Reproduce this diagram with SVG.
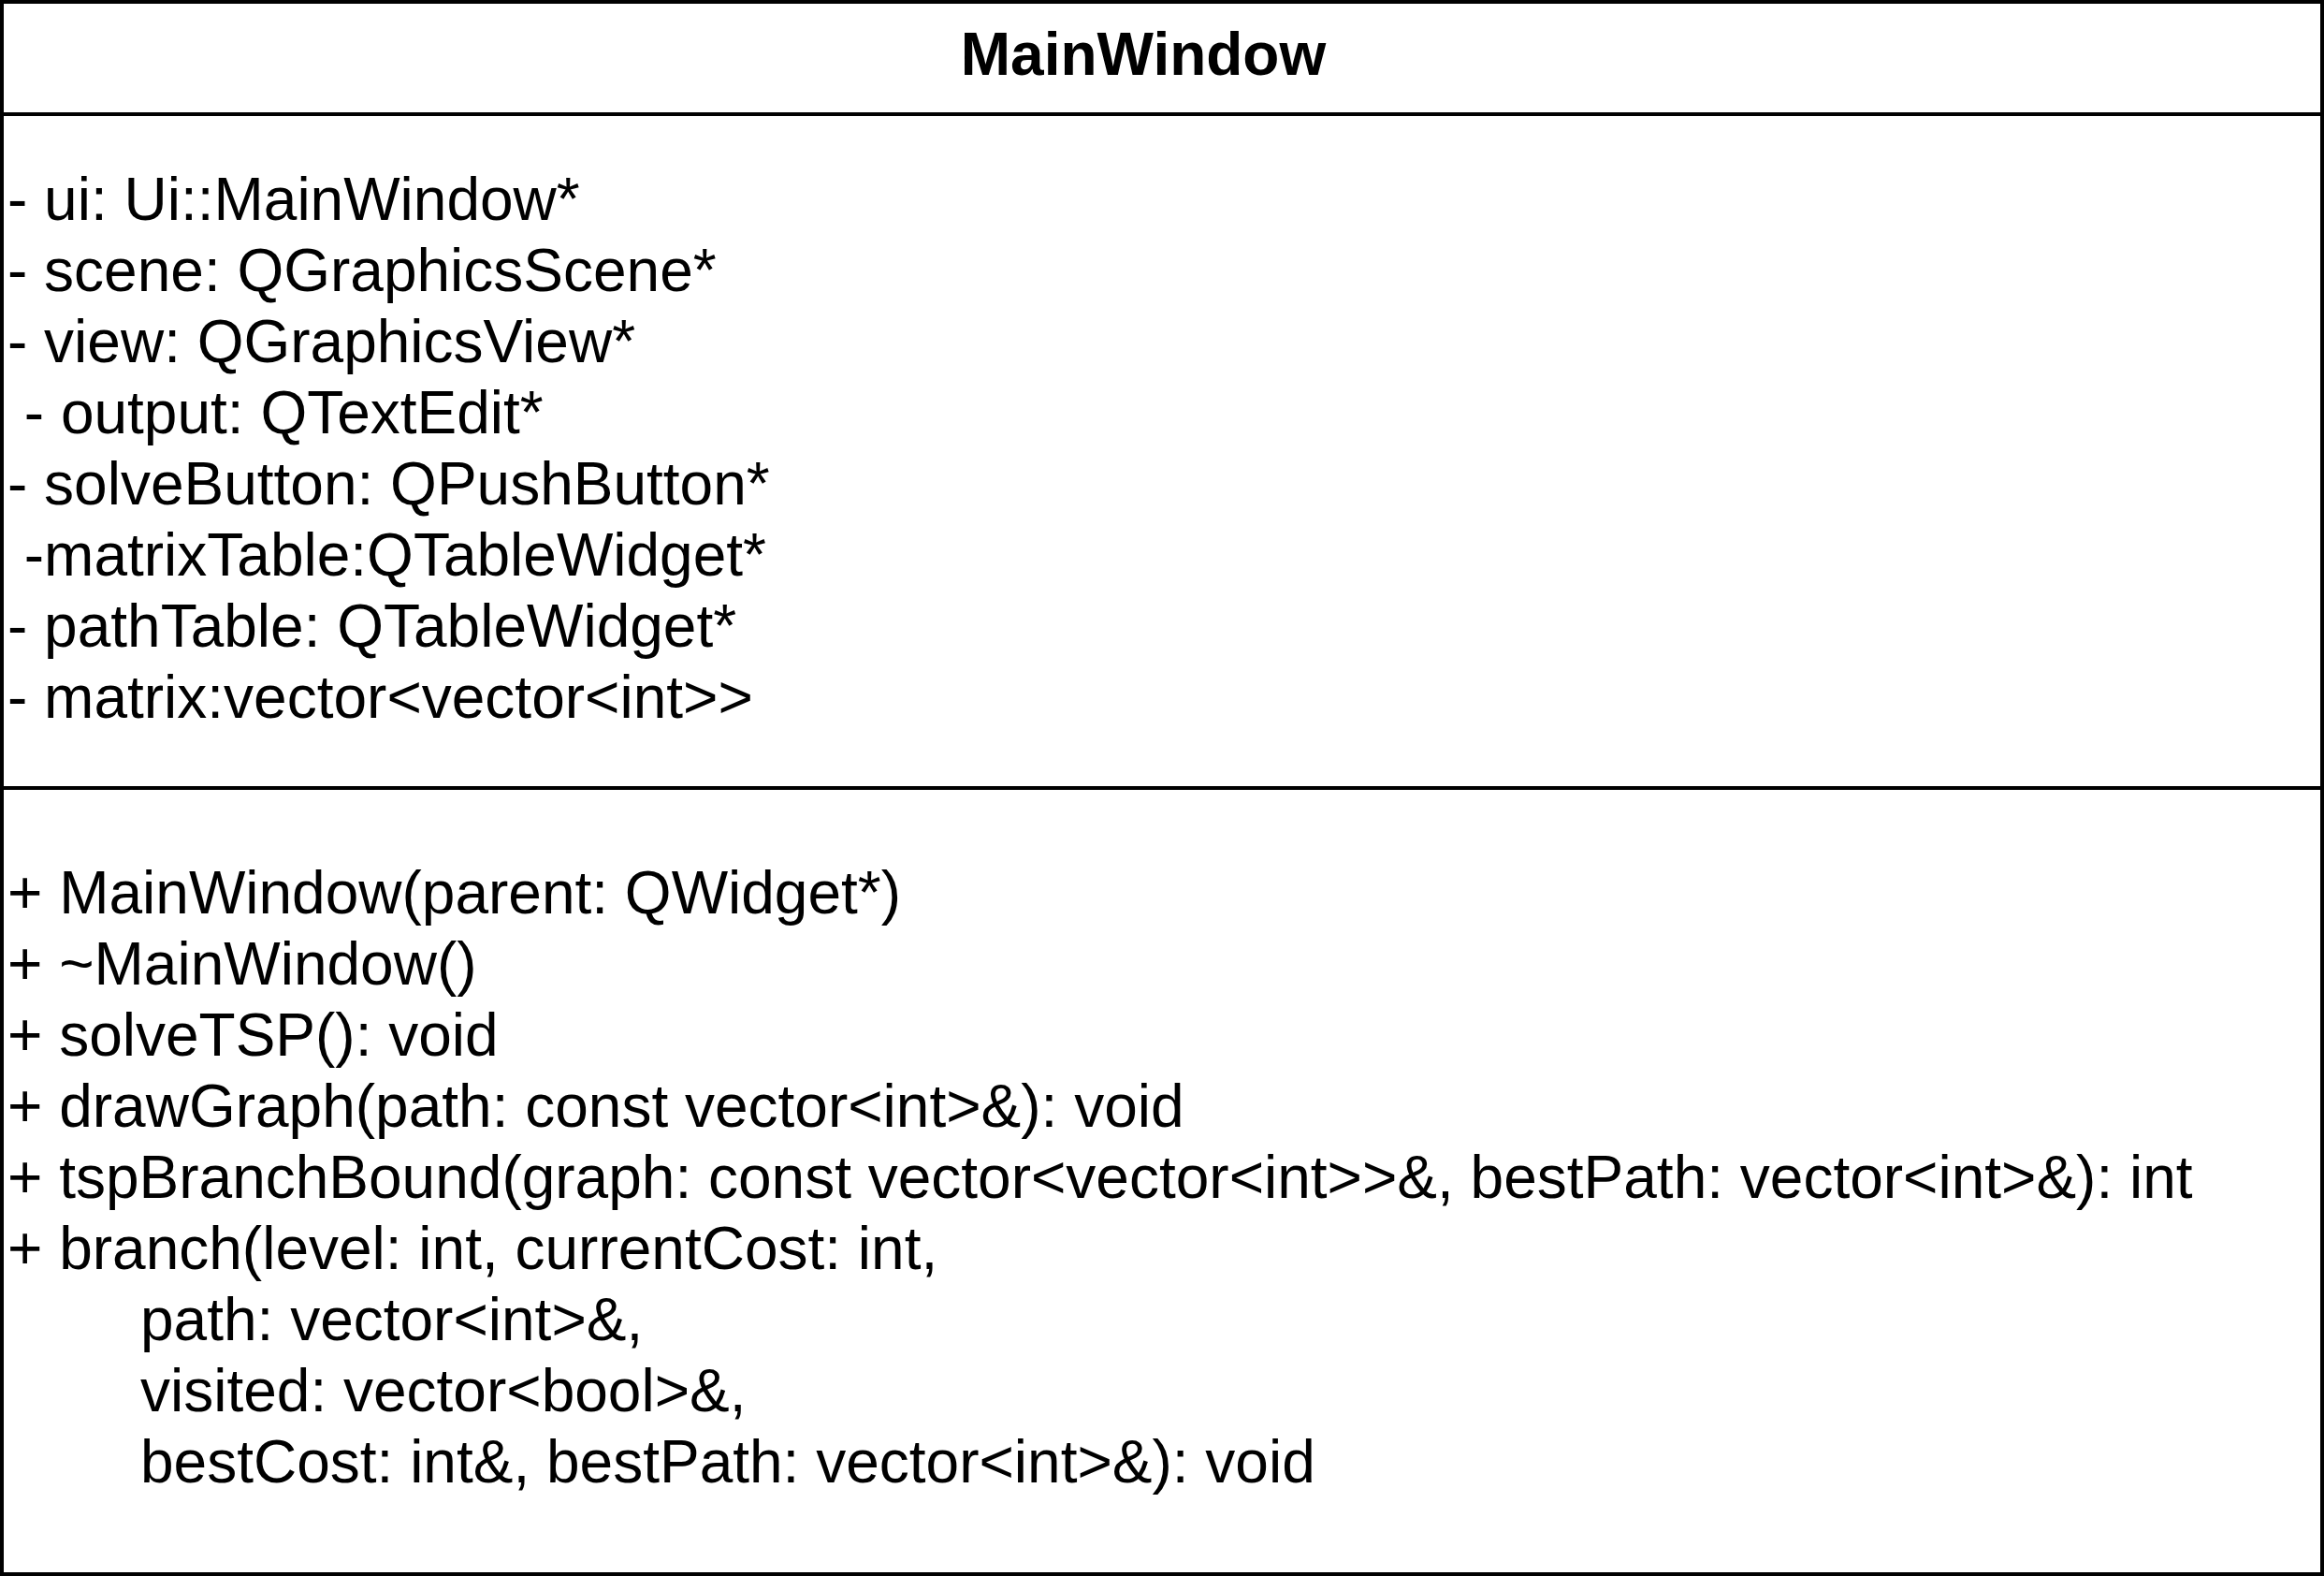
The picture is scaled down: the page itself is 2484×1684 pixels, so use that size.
<svg xmlns="http://www.w3.org/2000/svg" width="2484" height="1684" viewBox="0 0 2484 1684">
<style>
.t{font-family:"Liberation Sans",Arial,Helvetica,sans-serif;font-size:64px;fill:#000;white-space:pre}
.b{font-weight:bold}
.ln{stroke:#000;stroke-width:4;fill:none}
</style>
<rect x="0" y="0" width="2484" height="1684" fill="#fff"/>
<g id="MainWindow">
<rect class="ln" x="2" y="2" width="2480" height="1680" fill="#fff"/>
<line class="ln" x1="2" y1="122" x2="2482" y2="122"/>
<line class="ln" x1="2" y1="842" x2="2482" y2="842"/>
<text class="t b" x="1222" y="80" text-anchor="middle">MainWindow</text>
<g id="attributes">
<text class="t" x="8" y="235">- ui: Ui::MainWindow*</text>
<text class="t" x="8" y="311">- scene: QGraphicsScene*</text>
<text class="t" x="8" y="387">- view: QGraphicsView*</text>
<text class="t" x="8" y="463" xml:space="preserve"> - output: QTextEdit*</text>
<text class="t" x="8" y="539">- solveButton: QPushButton*</text>
<text class="t" x="8" y="615" xml:space="preserve"> -matrixTable:QTableWidget*</text>
<text class="t" x="8" y="691">- pathTable: QTableWidget*</text>
<text class="t" x="8" y="767">- matrix:vector&lt;vector&lt;int&gt;&gt;</text>
</g>
<g id="methods">
<text class="t" x="8" y="976">+ MainWindow(parent: QWidget*)</text>
<text class="t" x="8" y="1052">+ ~MainWindow()</text>
<text class="t" x="8" y="1128">+ solveTSP(): void</text>
<text class="t" x="8" y="1204">+ drawGraph(path: const vector&lt;int&gt;&amp;): void</text>
<text class="t" x="8" y="1280">+ tspBranchBound(graph: const vector&lt;vector&lt;int&gt;&gt;&amp;, bestPath: vector&lt;int&gt;&amp;): int</text>
<text class="t" x="8" y="1356">+ branch(level: int, currentCost: int,</text>
<text class="t" x="150" y="1432">path: vector&lt;int&gt;&amp;,</text>
<text class="t" x="150" y="1508">visited: vector&lt;bool&gt;&amp;,</text>
<text class="t" x="150" y="1584">bestCost: int&amp;, bestPath: vector&lt;int&gt;&amp;): void</text>
</g>
</g>
<g id="connectors"></g>
</svg>
